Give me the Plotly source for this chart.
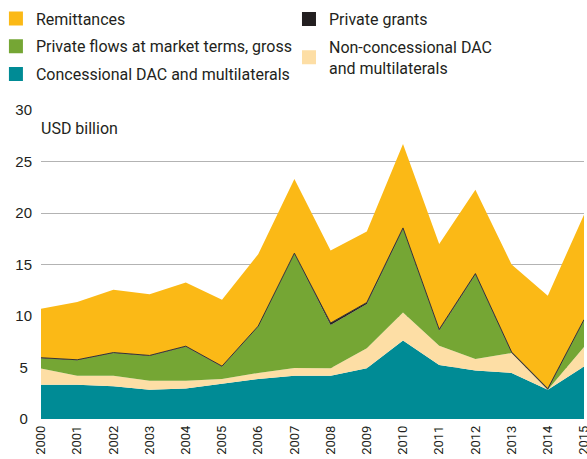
import plotly.graph_objects as go

years = list(range(2000, 2016))
concessional = [3.33, 3.33, 3.17, 2.85, 2.97, 3.4, 3.88, 4.2, 4.2, 4.92, 7.63, 5.24, 4.72, 4.47, 2.85, 5.1]
non_concessional = [1.57, 0.87, 1.03, 0.87, 0.75, 0.48, 0.59, 0.75, 0.72, 1.94, 2.72, 1.86, 1.1, 1.93, 0.0, 1.9]
private_flows = [1.0, 1.5, 2.2, 2.4, 3.3, 1.2, 4.5, 11.1, 4.2, 4.3, 8.1, 1.5, 8.2, 0.0, 0.0, 2.6]
private_grants = [0.05, 0.05, 0.05, 0.05, 0.05, 0.05, 0.05, 0.05, 0.2, 0.15, 0.1, 0.1, 0.1, 0.1, 0.1, 0.05]
remittances = [4.75, 5.6, 6.1, 5.93, 6.19, 6.45, 6.98, 7.2, 7.05, 6.89, 8.15, 8.3, 8.14, 8.5, 9.02, 10.18]

y_tickvals = [0, 5, 10, 15, 20, 25, 30]
y_ticktext = ["0\u00a0", "5\u00a0", "10", "15", "20", "25", "30"]

series = [
    ("Concessional DAC and multilaterals", concessional, "#008B95", "legend"),
    ("Non-concessional DAC<br>and multilaterals", non_concessional, "#FDDEA5", "legend2"),
    ("Private flows at market terms, gross", private_flows, "#75A634", "legend"),
    ("Private grants", private_grants, "#231F20", "legend2"),
    ("Remittances", remittances, "#FBB916", "legend"),
]

NARROW = "Roboto, Liberation Sans, sans-serif"

fig = go.Figure()
for name, vals, col, lg in series:
    is_grants = name == "Private grants"
    fig.add_trace(go.Scatter(
        x=years, y=vals, stackgroup="one", mode="lines",
        line=dict(width=1 if is_grants else 0, color="#333333" if is_grants else col),
        fillcolor=col, showlegend=False, hoverinfo="skip",
    ))

legend_order = {
    "legend": ["Remittances", "Private flows at market terms, gross", "Concessional DAC and multilaterals"],
    "legend2": ["Private grants", "Non-concessional DAC<br>and multilaterals"],
}
colors = {n: c for n, _, c, _ in series}
for lg, names in legend_order.items():
    for i, n in enumerate(names):
        fig.add_trace(go.Scatter(
            x=[None], y=[None], mode="markers", name=n,
            marker=dict(symbol="square", size=14, color=colors[n]),
            legend=lg, legendgroup=n, legendrank=i + 1,
        ))

leg_common = dict(
    orientation="v", yanchor="top", xanchor="left",
    font=dict(family=NARROW, size=16, color="#231F20"),
    bgcolor="rgba(0,0,0,0)", tracegroupgap=4, itemclick=False,
)
fig.update_layout(
    legend=dict(x=-0.083, y=1.351, **leg_common),
    legend2=dict(x=0.4567, y=1.349, **leg_common),
)

fig.add_annotation(
    text="USD billion", xref="paper", yref="paper", x=-0.004, y=0.94,
    xanchor="left", yanchor="middle", showarrow=False,
    font=dict(family=NARROW, size=16, color="#231F20"),
)

fig.update_xaxes(
    range=[2000, 2015], tickvals=years, ticktext=[str(y) for y in years],
    tickangle=-90, showgrid=False, zeroline=False, showline=False,
    tickfont=dict(family=NARROW, size=13, color="#231F20"),
    ticklabelstandoff=3, ticklabeloverflow="allow",
)
fig.update_yaxes(
    range=[0, 30], tickvals=y_tickvals, ticktext=y_ticktext,
    showgrid=True, gridcolor="#B3B3B3", gridwidth=1, zeroline=False,
    tickfont=dict(family="Liberation Sans, Arial, sans-serif", size=15, color="#231F20"),
    ticklabelstandoff=8,
)
fig.update_layout(
    width=587, height=459,
    margin=dict(l=41, r=3, t=110, b=40, autoexpand=False),
    plot_bgcolor="white", paper_bgcolor="white",
)

fig.write_html("out.html", config={"displayModeBar": False},
               post_script="document.body.style.margin='0';")
